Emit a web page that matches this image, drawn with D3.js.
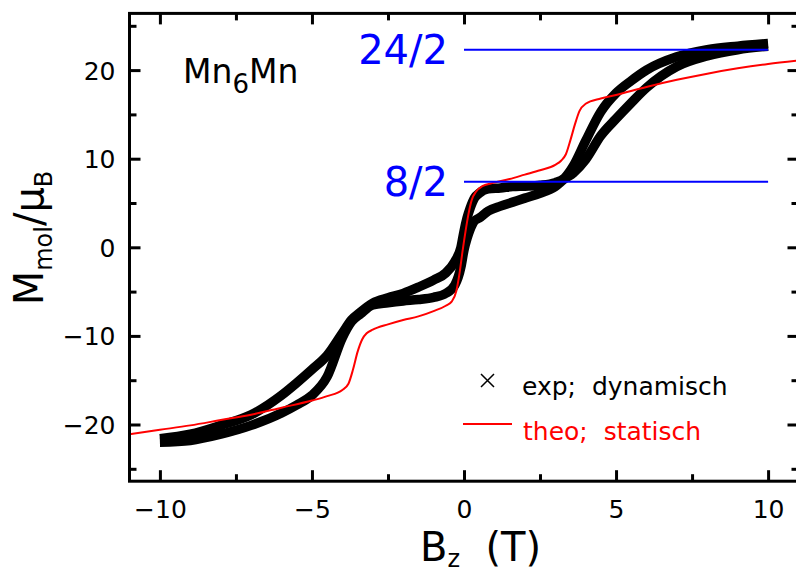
<!DOCTYPE html>
<html>
<head>
<meta charset="utf-8">
<script src="https://cdn.jsdelivr.net/npm/d3@7"></script>
<style>
  html, body { margin: 0; padding: 0; background: #fff; }
  svg { display: block; }
  text { font-family: "DejaVu Sans", sans-serif; }
</style>
</head>
<body>
<svg id="chart" width="796" height="574"></svg>
<script>
// ---- data ----
// experimental loop, sweep-down branch (upper)
const expDownB = [-10, -9, -8, -7, -6, -5.5, -5, -4.5, -4, -3.7, -3.4, -3, -2.5, -2, -1.5, -1, -0.6, -0.3, -0.1, 0, 0.1, 0.2, 0.35, 0.5, 0.8, 1.2, 1.6, 2, 2.5, 3, 3.3, 3.6, 4, 4.5, 5, 5.5, 6, 7, 8, 9, 10];
const expDownM = [-21.6, -21.1, -20.1, -18.9, -16.7, -15.3, -13.8, -12.2, -9.7, -8.2, -7.3, -6.3, -5.7, -5.2, -4.5, -3.7, -2.9, -1.6, 0.0, 1.8, 3.3, 4.4, 5.6, 6.1, 6.6, 6.7, 6.85, 6.9, 7.0, 7.3, 7.8, 9.2, 12.0, 15.3, 17.4, 18.8, 20.0, 21.5, 22.3, 22.7, 23.0];
// experimental loop, sweep-up branch (lower)
const expUpB = [-10, -9, -8, -7, -6, -5.5, -5, -4.5, -4, -3.7, -3.4, -3, -2.5, -2, -1.5, -1, -0.6, -0.3, -0.1, 0, 0.1, 0.2, 0.35, 0.5, 0.8, 1.2, 1.6, 2, 2.5, 3, 3.3, 3.6, 4, 4.5, 5, 5.5, 6, 7, 8, 9, 10];
const expUpM = [-22.0, -21.8, -21.1, -20.1, -18.7, -17.8, -16.7, -14.6, -10.2, -8.4, -7.5, -6.5, -6.25, -6.05, -5.9, -5.65, -5.2, -4.25, -2.2, -0.3, 1.0, 2.0, 3.0, 3.3, 4.1, 4.65, 5.1, 5.55, 6.1, 6.85, 7.7, 8.4, 9.9, 12.6, 14.5, 16.3, 18.0, 20.4, 21.6, 22.3, 22.7];
// theoretical static curve
const theoB = [-11, -10, -9, -8, -7, -6, -5, -4.5, -4, -3.8, -3.65, -3.5, -3.35, -3.2, -3, -2.5, -2, -1.5, -1, -0.6, -0.4, -0.25, -0.15, -0.05, 0.05, 0.15, 0.25, 0.4, 0.6, 1, 1.5, 2, 2.5, 3, 3.2, 3.35, 3.5, 3.65, 3.8, 4, 4.5, 5, 6, 7, 8, 9, 10, 11];
const theoM = [-21.1, -20.6, -20.1, -19.5, -18.9, -18.1, -17.3, -16.8, -16.1, -15.4, -13.8, -11.8, -10.4, -9.7, -9.3, -8.7, -8.2, -7.8, -7.2, -6.6, -6.1, -4.9, -3.0, -0.5, 1.8, 3.8, 5.3, 6.3, 6.9, 7.3, 7.7, 8.2, 8.7, 9.3, 9.8, 10.5, 12.1, 13.9, 15.4, 16.2, 16.8, 17.2, 18.1, 18.9, 19.6, 20.2, 20.7, 21.1];
// reference levels
const levelLabels = ["24/2", "8/2"];
const levelValues = [22.3, 7.4];
const levelRange = [0, 10];
// ticks
const xMajorTicks = [-10, -5, 0, 5, 10];
const xMinorTicks = [-7.5, -2.5, 2.5, 7.5];
const yMajorTicks = [-20, -10, 0, 10, 20];
const yMinorTicks = [-25, -15, -5, 5, 15, 25];
const xDomain = [-11, 11];
const yDomain = [-26.4, 26.4];
const legendLabels = ["exp;  dynamisch", "theo;  statisch"];

// ---- drawing ----
const svg = d3.select("#chart");
const x = d3.scaleLinear().domain(xDomain).range([129.5, 798.5]);
const y = d3.scaleLinear().domain(yDomain).range([481.2, 13.4]);
const fmt = d => (d < 0 ? "\u2212" + Math.abs(d) : String(d));

const line = d3.line().x(d => x(d[0])).y(d => y(d[1])).curve(d3.curveMonotoneX);
const zip = (a, b) => a.map((v, i) => [v, b[i]]);

// experimental loop (thick band of markers)
[zip(expDownB, expDownM), zip(expUpB, expUpM)].forEach(pts => {
  svg.append("path").attr("d", line(pts))
    .attr("fill", "none").attr("stroke", "#000")
    .attr("stroke-width", 9.5).attr("stroke-linejoin", "round");
});

// theoretical curve
svg.append("path").attr("d", line(zip(theoB, theoM)))
  .attr("fill", "none").attr("stroke", "#ff0000").attr("stroke-width", 2);

// reference levels
levelValues.forEach((v, i) => {
  svg.append("line")
    .attr("x1", x(levelRange[0])).attr("x2", x(levelRange[1]))
    .attr("y1", y(v)).attr("y2", y(v))
    .attr("stroke", "#0000ff").attr("stroke-width", 2);
  svg.append("text")
    .attr("x", x(levelRange[0]) - 16).attr("y", y(v) + 14)
    .attr("text-anchor", "end").attr("font-size", 40).attr("fill", "#0000ff")
    .text(levelLabels[i]);
});

// axes
const axisG = svg.append("g").attr("stroke", "#000").attr("stroke-width", 3);
const [x0, x1] = x.range();
const [y0, y1] = y.range();
axisG.append("rect").attr("x", x0).attr("y", y1).attr("width", x1 - x0).attr("height", y0 - y1)
  .attr("fill", "none");

const xAxisB = d3.axisBottom(x).tickValues(xMajorTicks).tickSizeInner(-11).tickSizeOuter(0).tickFormat(fmt);
const xAxisBm = d3.axisBottom(x).tickValues(xMinorTicks).tickSizeInner(-7).tickSizeOuter(0).tickFormat("");
const xAxisT = d3.axisTop(x).tickValues(xMajorTicks).tickSizeInner(-11).tickSizeOuter(0).tickFormat("");
const xAxisTm = d3.axisTop(x).tickValues(xMinorTicks).tickSizeInner(-7).tickSizeOuter(0).tickFormat("");
const yAxisL = d3.axisLeft(y).tickValues(yMajorTicks).tickSizeInner(-11).tickSizeOuter(0).tickFormat(fmt);
const yAxisLm = d3.axisLeft(y).tickValues(yMinorTicks).tickSizeInner(-7).tickSizeOuter(0).tickFormat("");
const yAxisR = d3.axisRight(y).tickValues(yMajorTicks).tickSizeInner(-11).tickSizeOuter(0).tickFormat("");
const yAxisRm = d3.axisRight(y).tickValues(yMinorTicks).tickSizeInner(-7).tickSizeOuter(0).tickFormat("");

function styleAxis(g) {
  g.select(".domain").remove();
  g.selectAll(".tick line").attr("stroke", "#000").attr("stroke-width", 3);
  g.selectAll(".tick text").attr("font-size", 25).attr("fill", "#000")
    .attr("font-family", "DejaVu Sans, sans-serif");
}
svg.append("g").attr("transform", `translate(0,${y0})`).call(xAxisB).call(styleAxis)
  .selectAll(".tick text").attr("dy", 0).attr("y", 37);
svg.append("g").attr("transform", `translate(0,${y0})`).call(xAxisBm).call(styleAxis);
svg.append("g").attr("transform", `translate(0,${y1})`).call(xAxisT).call(styleAxis);
svg.append("g").attr("transform", `translate(0,${y1})`).call(xAxisTm).call(styleAxis);
svg.append("g").attr("transform", `translate(${x0},0)`).call(yAxisL).call(styleAxis)
  .selectAll(".tick text").attr("x", -14).attr("dy", "0.36em");
svg.append("g").attr("transform", `translate(${x0},0)`).call(yAxisLm).call(styleAxis);
svg.append("g").attr("transform", `translate(${x1},0)`).call(yAxisR).call(styleAxis);
svg.append("g").attr("transform", `translate(${x1},0)`).call(yAxisRm).call(styleAxis);

// axis titles
const xt = svg.append("text").attr("x", 420).attr("y", 561)
  .attr("text-anchor", "start").attr("font-size", 40).attr("fill", "#000")
  .attr("xml:space", "preserve");
xt.append("tspan").text("B");
xt.append("tspan").attr("font-size", 24).attr("dy", 6).text("z");
xt.append("tspan").attr("dy", -6).text("  (T)");

const yt = svg.append("text").attr("transform", "translate(43,238) rotate(-90)")
  .attr("text-anchor", "middle").attr("font-size", 40).attr("fill", "#000");
yt.append("tspan").text("M");
yt.append("tspan").attr("font-size", 24).attr("dy", 9).text("mol");
yt.append("tspan").attr("dy", -9).text("/\u03bc");
yt.append("tspan").attr("font-size", 24).attr("dy", 9).text("B");

// sample label
const st = svg.append("text").attr("x", 183).attr("y", 83).attr("font-size", 33).attr("fill", "#000");
st.append("tspan").text("Mn");
st.append("tspan").attr("font-size", 26).attr("dy", 10).text("6");
st.append("tspan").attr("dy", -10).text("Mn");

// legend
const lg = svg.append("g");
lg.append("path").attr("d", "M481,374L494,387M494,374L481,387")
  .attr("stroke", "#000").attr("stroke-width", 1.5);
lg.append("text").attr("x", 522).attr("y", 395).attr("font-size", 25).attr("fill", "#000")
  .attr("xml:space", "preserve").text(legendLabels[0]);
lg.append("line").attr("x1", 463).attr("x2", 512).attr("y1", 424).attr("y2", 424)
  .attr("stroke", "#ff0000").attr("stroke-width", 2);
lg.append("text").attr("x", 523).attr("y", 440).attr("font-size", 25).attr("fill", "#ff0000")
  .attr("xml:space", "preserve").text(legendLabels[1]);
</script>
</body>
</html>
